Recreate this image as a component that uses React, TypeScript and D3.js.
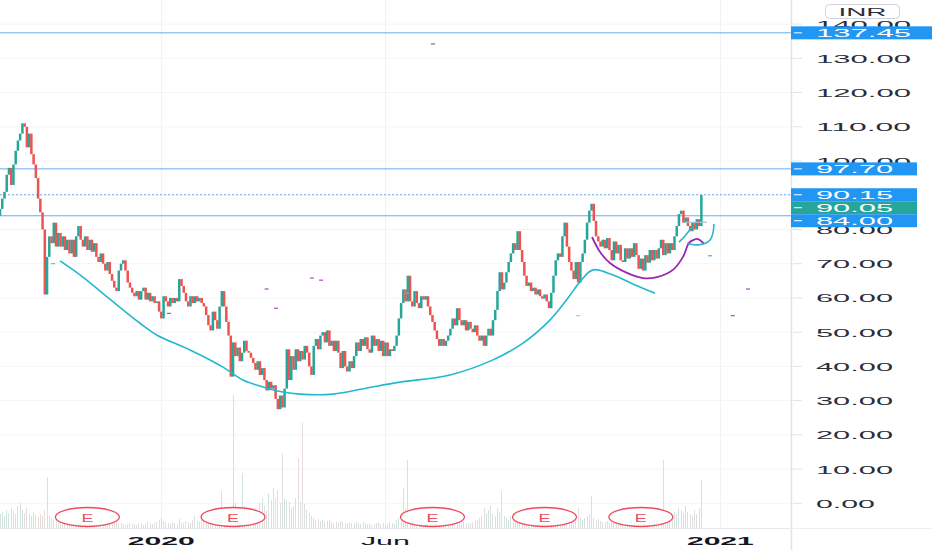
import * as d3 from "d3";

// ---- data (daily bars, INR) ----
const firstOpen = 84;
const closes = [
  86, 89, 91, 96, 98, 93, 99, 103, 106, 108,
  111, 110, 104, 108, 102, 99, 95, 89, 85, 80,
  61, 72, 78, 76, 82, 75, 79, 75, 78, 74,
  77, 73, 77, 72, 78, 81, 77, 75, 78, 74,
  77, 73.5, 76, 72, 70.5, 73, 70, 68, 70.5, 67,
  65, 63, 62, 68, 70, 71, 68, 64.5, 63, 61.5,
  60.5, 62, 59.5, 62, 63, 59.5, 61.5, 59, 60.5, 58.5,
  59, 56, 54, 60.5, 59, 57.5, 60, 58.5, 60, 59,
  65.5, 63.5, 61.5, 59, 57.5, 60.5, 58.5, 60.5, 59, 60,
  58.5, 57.5, 55, 52, 50.5, 56, 53.5, 51, 57.5, 62,
  57.5, 53, 49, 37, 47, 43, 45.5, 41.5, 44, 47.5,
  44.5, 44, 42.5, 41, 39, 41.5, 37.5, 39.5, 36, 33,
  35.5, 33.5, 34.5, 30.5, 27.5, 31.5, 28, 33.5, 45, 36,
  43, 39, 45, 41.5, 44.5, 42, 46, 44, 40, 37.5,
  46, 48, 45, 49, 50, 47, 50.5, 46, 47.5, 44.5,
  47.5, 44, 39.5, 44.5, 40, 38.5, 41.5, 39.5, 43, 47,
  44.5, 48, 46, 48.5, 45, 44, 49, 46, 48, 44.5,
  47.5, 43, 47, 43, 45, 44.5, 46, 49, 54, 58.5,
  62.5, 59, 66.5, 59, 57.5, 62, 58.5, 57, 60.5, 59.5,
  60.5, 57.5, 55, 53, 50.5, 48, 46, 48, 46, 47.5,
  49, 51, 54, 52, 57, 53.5, 52, 53.5, 50.5, 53,
  51, 50, 52, 49, 47.5, 49, 46, 49, 51, 49,
  53.5, 56.5, 62, 67.5, 62.5, 64.5, 67.5, 70.5, 73, 76,
  74, 79.5, 74, 70.5, 66.5, 63.5, 64.5, 62, 63, 61,
  62.5, 60.5, 59.8, 61, 59, 57, 61.5, 66.5, 71, 73,
  72, 78, 82, 75, 70.5, 68, 65.5, 70.5, 64.5, 70.5,
  73, 77, 82, 85.5, 87.5, 82.5, 78, 76.5, 75, 77,
  74.5, 77.5, 74, 71, 76.5, 73, 75.5, 71, 70.5, 74.5,
  71.5, 74.5, 72, 76, 72.5, 68.5, 71.5, 68, 72.5, 70.3,
  74, 71, 74, 71.5, 74.5, 77, 72.5, 76, 73, 76,
  74, 78, 81, 84.5, 85.5, 82, 83.5, 81, 79.5, 82, 80, 83, 81, 90.05,
];
const volumes = [
  14, 16, 12, 18, 15, 20, 17, 14, 22, 25,
  18, 15, 20, 14, 12, 16, 13, 11, 14, 12,
  18, 51, 12, 10, 9, 8, 10, 7, 8, 9,
  7, 6, 8, 5, 6, 7, 5, 6, 5, 6,
  5, 6, 5, 4, 5, 6, 4, 5, 4, 5,
  4, 5, 6, 4, 5, 4, 3, 4, 5, 4,
  4, 3, 5, 4, 3, 4, 6, 5, 4, 5,
  6, 8, 10, 7, 6, 5, 4, 6, 5, 4,
  9, 6, 5, 7, 6, 5, 8, 12, 7, 6,
  9, 12, 15, 10, 8, 18, 12, 10, 14, 37,
  15, 12, 14, 20, 133, 25, 18, 20, 55, 22,
  14, 12, 18, 15, 20, 16, 25, 30, 22, 18,
  35, 28, 40, 30, 38, 25, 75, 30, 28, 26,
  20, 22, 30, 70, 26, 105, 24, 18, 15, 12,
  10, 8, 9, 7, 8, 6, 7, 8, 6, 5,
  6, 5, 7, 6, 5, 4, 6, 5, 4, 6,
  5, 4, 6, 5, 4, 5, 3, 4, 5, 6,
  4, 5, 3, 4, 6, 5, 4, 8, 10, 12,
  40, 20, 68, 18, 12, 10, 8, 9, 7, 8,
  6, 7, 5, 6, 8, 7, 6, 5, 7, 6,
  5, 6, 8, 7, 6, 5, 4, 6, 5, 4,
  5, 6, 7, 8, 10, 12, 20, 15, 18, 22,
  14, 12, 20, 16, 37, 12, 10, 8, 12, 15,
  10, 12, 8, 6, 7, 5, 6, 8, 5, 6,
  5, 4, 6, 5, 4, 6, 8, 10, 12, 9,
  10, 14, 12, 8, 6, 7, 9, 8, 20, 10,
  8, 10, 12, 14, 32, 10, 8, 9, 7, 6,
  6, 7, 5, 6, 5, 7, 6, 5, 6, 7,
  5, 6, 8, 6, 7, 9, 6, 8, 7, 10,
  8, 10, 12, 9, 14, 18, 68, 12, 10, 14,
  12, 16, 14, 20, 18, 15, 22, 16, 14, 12, 18, 14, 20, 48,
];

const priceTicks = [0, 10, 20, 30, 40, 50, 60, 70, 80, 90, 100, 110, 120, 130, 140];
const levels = [
  { value: 137.45, dashed: false },
  { value: 97.7, dashed: false },
  { value: 90.15, dashed: true },
  { value: 84.0, dashed: false },
];
// axis badges, top to bottom (stacked so they don't overlap)
const badges = [
  { text: "137.45", value: 137.45, color: "#2196f3", full: true },
  { text: "97.70", value: 97.7, color: "#2196f3", full: false },
  { text: "90.15", value: 90.15, color: "#2196f3", full: false },
  { text: "90.05", value: 90.05, color: "#26a69a", full: false },
  { text: "84.00", value: 84.0, color: "#2196f3", full: false },
];
const earningsBars = [39, 104, 193, 243, 286];
const timeTicks = [
  { label: "2020", bar: 72, bold: true },
  { label: "Jun", bar: 172, bold: false },
  { label: "2021", bar: 321.5, bold: true },
];

// drawings: [bar index, price]
const cupCurve: [number, number][] = [
  [26.8, 70.8], [37, 66.1], [47.8, 60.3], [54.9, 56.5], [62.5, 52.6], [70.1, 49.1],
  [84.8, 44.8], [99.5, 39.8], [108.4, 36], [117.4, 34], [126.3, 32.5], [133.9, 31.9],
  [148.6, 31.9], [163.8, 33.7], [178.5, 35.4], [200.8, 37.5], [220, 41.9], [233.4, 46.8],
  [245.5, 53.6], [253.5, 60], [258.8, 64.7], [264.6, 68.2], [273.6, 66.7], [283.4, 63.8],
  [292.3, 61.4],
];
const handleCurve: [number, number][] = [
  [264.2, 77.8], [267.8, 73.4], [272.2, 70.2], [279.8, 67.3], [287, 65.8],
  [293.2, 66.1], [300.3, 68.2], [304.8, 72], [307.5, 76.1], [309.3, 76.9],
  [311.5, 77.2], [314.2, 75.8],
];
const handleRise: [number, number][] = [[303, 76.3], [305.7, 78.1], [308.8, 80.7]];
const miniHandle: [number, number][] = [
  [306.6, 76], [310.6, 75.5], [314.2, 75.8], [316.9, 76.9], [318.2, 79], [318.6, 81.6],
];
const handleTop: [number, number][] = [[305.5, 82.1], [315.5, 82.1]];
const marks: { bar: number; price: number; color: string }[] = [
  { bar: 193.2, price: 134.2, color: "#555" },
  { bar: 75.4, price: 55.5, color: "#9c27b0" },
  { bar: 119, price: 62.6, color: "#9c27b0" },
  { bar: 123.2, price: 57, color: "#9c27b0" },
  { bar: 139.2, price: 65.8, color: "#9c27b0" },
  { bar: 143.3, price: 65.2, color: "#9c27b0" },
  { bar: 181.6, price: 61.4, color: "#b39ddb" },
  { bar: 258, price: 54.8, color: "#80cbc4" },
  { bar: 23.7, price: 70, color: "#26c6da" },
  { bar: 316.9, price: 72.3, color: "#2196f3" },
  { bar: 327, price: 54.8, color: "#9c27b0" },
  { bar: 333.8, price: 62.6, color: "#9c27b0" },
];

const W = 932;
const H = 550;
const AXIS_X = 791;
const BOTTOM = 528;
const UP = "#26a69a";
const DOWN = "#ef5350";
const TXT = "#2a2e39";

const x = d3.scaleLinear().domain([0, 353]).range([0, AXIS_X]);
const y = d3.scaleLinear().domain([0, 140]).range([503.3, 24.1]);
const yVol = d3.scaleLinear().domain([0, 140]).range([BOTTOM, BOTTOM - 140]);

// stretched text (the screenshot is wide)
const charW = (s: string) => s.replace(/[^0-9]/g, "").length * 18 + (s.includes(".") ? 5 : 0);

const StretchText = ({ x, y, w, anchor = "start", size = 11, weight = 400, fill = TXT, children }: any) => (
  <text
    x={x}
    y={y}
    textLength={w}
    lengthAdjust="spacingAndGlyphs"
    textAnchor={anchor}
    dominantBaseline="central"
    fontSize={size}
    fontWeight={weight}
    fill={fill}
    fontFamily="'Liberation Sans', Arial, sans-serif"
  >
    {children}
  </text>
);

export default function App() {
  const bars = closes.map((c, i) => {
    const o = i === 0 ? firstOpen : closes[i - 1];
    return { i, o, c, up: c >= o, v: volumes[i] };
  });
  const line = d3
    .line<[number, number]>()
    .x((d) => x(d[0]))
    .y((d) => y(d[1]))
    .curve(d3.curveCatmullRom);

  // stack badges
  let prevBottom = -Infinity;
  const badgeBoxes = badges.map((b) => {
    let top = y(b.value) - 6.5;
    if (top < prevBottom) top = prevBottom;
    prevBottom = top + 13;
    return { ...b, top };
  });

  const bw = 2.5;

  return (
    <>
      <style>{`body{margin:0;background:#fff}`}</style>
      <svg width={W} height={H} style={{ display: "block" }}>
        <rect width={W} height={H} fill="#fff" />
        {/* grid */}
        {priceTicks.map((t) => (
          <line key={"g" + t} x1={0} x2={AXIS_X} y1={y(t)} y2={y(t)} stroke="#f2f4f8" />
        ))}
        {timeTicks.map((t) => (
          <line key={"v" + t.label} x1={x(t.bar)} x2={x(t.bar)} y1={0} y2={BOTTOM} stroke="#eef0f5" />
        ))}

        {/* volume */}
        <g shapeRendering="crispEdges">
          {bars.map((b) => (
            <rect
              key={"vol" + b.i}
              x={x(b.i) - 0.5}
              width={1}
              y={yVol(b.v)}
              height={BOTTOM - yVol(b.v)}
              fill={b.up ? "#c4d9d4" : "#ddd0d0"}
              opacity={0.75}
            />
          ))}
        </g>

        {/* horizontal levels */}
        {levels.map((l) => (
          <line
            key={"l" + l.value}
            x1={0}
            x2={AXIS_X}
            y1={y(l.value)}
            y2={y(l.value)}
            stroke="#64aef0"
            strokeWidth={1}
            strokeDasharray={l.dashed ? "2 2" : undefined}
          />
        ))}

        {/* candles */}
        <g>
          {bars.map((b) => {
            const top = y(Math.max(b.o, b.c));
            const h = Math.max(1.2, Math.abs(y(b.o) - y(b.c)));
            return (
              <rect key={"c" + b.i} x={x(b.i) - bw / 2} y={top} width={bw} height={h} fill={b.up ? UP : DOWN} />
            );
          })}
        </g>

        {/* drawings */}
        <path d={line(cupCurve) || ""} fill="none" stroke="#22b8cf" strokeWidth={1.6} />
        <path d={line(handleCurve) || ""} fill="none" stroke="#9c27b0" strokeWidth={1.8} />
        <path d={line(handleRise) || ""} fill="none" stroke="#22b8cf" strokeWidth={1.6} />
        <path d={line(miniHandle) || ""} fill="none" stroke="#22b8cf" strokeWidth={1.6} />
        <path d={line(handleTop) || ""} fill="none" stroke="#9fc3d6" strokeWidth={1.2} />
        {marks.map((m, k) => (
          <line key={"m" + k} x1={x(m.bar) - 2} x2={x(m.bar) + 2} y1={y(m.price)} y2={y(m.price)} stroke={m.color} strokeWidth={1} />
        ))}

        {/* earnings markers */}
        {earningsBars.map((e) => (
          <g key={"e" + e}>
            <ellipse cx={x(e)} cy={517} rx={32} ry={9.5} fill="#fff" fillOpacity={0.85} stroke="#ee4a5d" strokeWidth={1.3} />
            <StretchText x={x(e)} y={517.5} w={12} anchor="middle" fill="#ee4a5d">
              E
            </StretchText>
          </g>
        ))}

        {/* axes frame */}
        <line x1={0} x2={W} y1={BOTTOM + 0.5} y2={BOTTOM + 0.5} stroke="#e6e8ee" />
        <rect x={AXIS_X} y={0} width={W - AXIS_X} height={H} fill="#fff" />
        <line x1={AXIS_X + 0.5} x2={AXIS_X + 0.5} y1={0} y2={H} stroke="#dfe2ea" strokeWidth={1.5} />
        <line x1={AXIS_X} x2={W} y1={BOTTOM + 0.5} y2={BOTTOM + 0.5} stroke="#eceef2" />

        {/* price axis */}
        {priceTicks.map((t) => (
          <g key={"t" + t}>
            <line x1={793} x2={802} y1={y(t)} y2={y(t)} stroke="#dfe2ea" />
            <StretchText x={816} y={y(t) + 0.5} w={charW(t.toFixed(2))}>
              {t.toFixed(2)}
            </StretchText>
          </g>
        ))}

        {/* badges */}
        {badgeBoxes.map((b) => (
          <g key={"b" + b.text}>
            <rect x={AXIS_X} y={b.top} width={(b.full ? W : 917) - AXIS_X} height={13} fill={b.color} />
            <line x1={794} x2={802} y1={b.top + 6.5} y2={b.top + 6.5} stroke="#fff" />
            <StretchText x={816} y={b.top + 7} w={charW(b.text)} fill="#fff">
              {b.text}
            </StretchText>
          </g>
        ))}

        {/* currency */}
        <rect x={825.5} y={4.5} width={74} height={14} rx={4} fill="#fff" stroke="#cfd2d9" />
        <StretchText x={862.5} y={12} w={48} anchor="middle">
          INR
        </StretchText>

        {/* time axis */}
        {timeTicks.map((t) => (
          <StretchText
            key={"tt" + t.label}
            x={x(t.bar)}
            y={540.5}
            w={t.label.length === 3 ? 49 : 67}
            anchor="middle"
            weight={t.bold ? 700 : 400}
            fill="#131722"
          >
            {t.label}
          </StretchText>
        ))}
      </svg>
    </>
  );
}
